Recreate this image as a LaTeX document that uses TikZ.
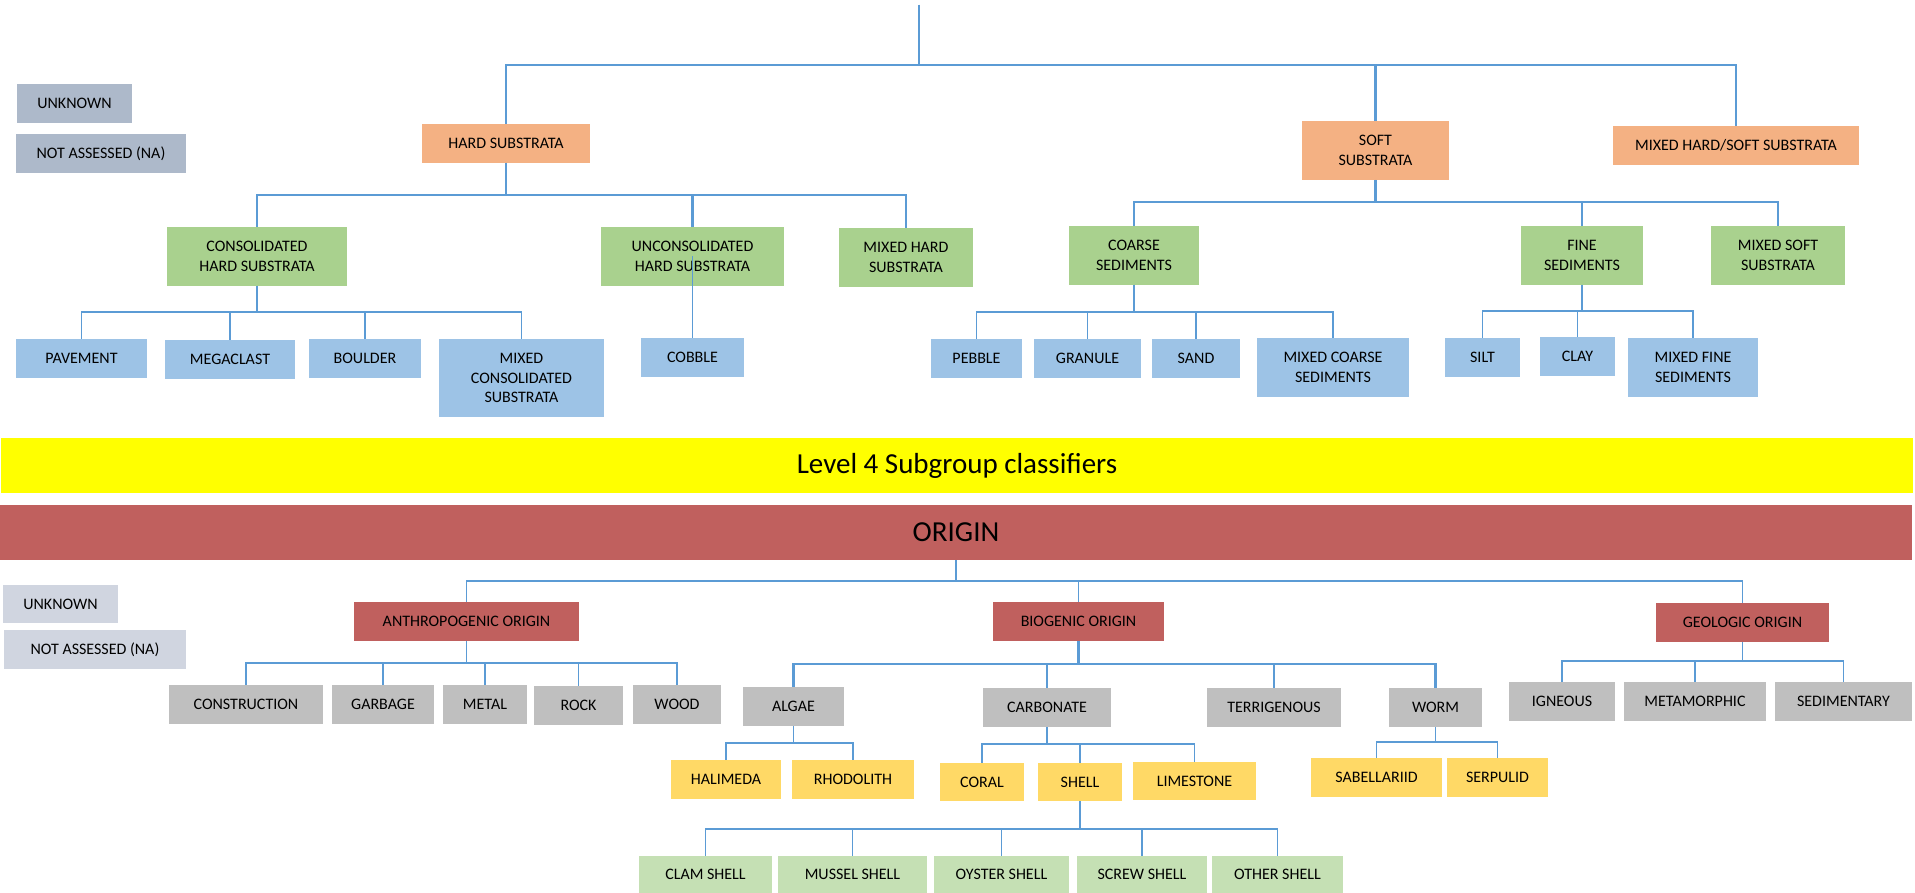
\documentclass[tikz,border=0pt]{standalone}
\usepackage{fontspec}
\setmainfont{Carlito}
\definecolor{cLeg}{HTML}{ADB9CA}
\definecolor{cLegB}{HTML}{D0D5E0}
\definecolor{cOr}{HTML}{F4B183}
\definecolor{cGr}{HTML}{A9D18E}
\definecolor{cBl}{HTML}{9DC3E6}
\definecolor{cRd}{HTML}{C0605E}
\definecolor{cGy}{HTML}{BFBFBF}
\definecolor{cYl}{HTML}{FFD966}
\definecolor{cLg}{HTML}{C5E0B4}
\definecolor{cLn}{HTML}{5B9BD5}
\definecolor{cBand}{HTML}{FFFF00}
\newcommand{\cnx}[4][]{\draw[ln,#1] (#2.south) |- (#3.north |- #4) -- (#3.north);}
\begin{document}
\begin{tikzpicture}[x=1pt,y=-1pt,
  bx/.style={inner sep=0pt, outer sep=0pt, align=center, font=\fontsize{16}{19.5}\selectfont, minimum height=39pt},
  band/.style={inner sep=0pt, outer sep=0pt, minimum width=1912pt, minimum height=55pt, font=\fontsize{29}{35}\selectfont},
  ln/.style={draw=cLn, line width=1.4pt},
  tk/.style={line width=2.8pt}]
\useasboundingbox (0,0) rectangle (1915,893);
% ---------- upper tree ----------
\node[bx,fill=cLeg,minimum width=115pt] (unkA) at (74.5,103.5) {UNKNOWN};
\node[bx,fill=cLeg,minimum width=170pt] (naA) at (101,153.5) {NOT ASSESSED (NA)};
\node[bx,fill=cOr,minimum width=168pt] (hard) at (506,143.5) {HARD SUBSTRATA};
\node[bx,fill=cOr,minimum width=147pt,minimum height=59pt] (soft) at (1375.5,150.5) {SOFT\\SUBSTRATA};
\node[bx,fill=cOr,minimum width=246pt] (mhs) at (1736,145.5) {MIXED HARD/SOFT SUBSTRATA};
\node[bx,fill=cGr,minimum width=180pt,minimum height=59pt] (cons) at (257,256.5) {CONSOLIDATED\\HARD SUBSTRATA};
\node[bx,fill=cGr,minimum width=183pt,minimum height=59pt] (uncons) at (692.5,256.5) {UNCONSOLIDATED\\HARD SUBSTRATA};
\node[bx,fill=cGr,minimum width=134pt,minimum height=59pt] (mhard) at (906,257.5) {MIXED HARD\\SUBSTRATA};
\node[bx,fill=cGr,minimum width=130pt,minimum height=59pt] (coarse) at (1134,255.5) {COARSE\\SEDIMENTS};
\node[bx,fill=cGr,minimum width=122pt,minimum height=59pt] (fine) at (1582,255.5) {FINE\\SEDIMENTS};
\node[bx,fill=cGr,minimum width=134pt,minimum height=59pt] (msoft) at (1778,255.5) {MIXED SOFT\\SUBSTRATA};
\node[bx,fill=cBl,minimum width=131pt] (pave) at (81.5,358.5) {PAVEMENT};
\node[bx,fill=cBl,minimum width=130pt] (mega) at (230,359.5) {MEGACLAST};
\node[bx,fill=cBl,minimum width=112pt] (boul) at (365,358.5) {BOULDER};
\node[bx,fill=cBl,minimum width=165pt,minimum height=78pt] (mcons) at (521.5,378) {MIXED\\CONSOLIDATED\\SUBSTRATA};
\node[bx,fill=cBl,minimum width=103pt] (cobb) at (692.5,357.5) {COBBLE};
\node[bx,fill=cBl,minimum width=91pt] (pebb) at (976.5,358.5) {PEBBLE};
\node[bx,fill=cBl,minimum width=107pt] (gran) at (1087.5,358.5) {GRANULE};
\node[bx,fill=cBl,minimum width=88pt] (sand) at (1196,358.5) {SAND};
\node[bx,fill=cBl,minimum width=152pt,minimum height=59pt] (mcoarse) at (1333,367.5) {MIXED COARSE\\SEDIMENTS};
\node[bx,fill=cBl,minimum width=75pt] (silt) at (1482.5,357.5) {SILT};
\node[bx,fill=cBl,minimum width=75pt] (clay) at (1577.5,356.5) {CLAY};
\node[bx,fill=cBl,minimum width=130pt,minimum height=59pt] (mfine) at (1693,367.5) {MIXED FINE\\SEDIMENTS};
% ---------- bands ----------
\node[band,fill=cBand] (lvl) at (957,465.5) {Level 4 Subgroup classifiers};
\node[band,fill=cRd] (orig) at (956,532.5) {ORIGIN};
% ---------- lower tree ----------
\node[bx,fill=cLegB,minimum width=115pt,minimum height=38pt] (unkB) at (60.5,604) {UNKNOWN};
\node[bx,fill=cLegB,minimum width=182pt] (naB) at (95,649.5) {NOT ASSESSED (NA)};
\node[bx,fill=cRd,minimum width=225pt] (anth) at (466.5,621.5) {ANTHROPOGENIC ORIGIN};
\node[bx,fill=cRd,minimum width=171pt] (biog) at (1078.5,621.5) {BIOGENIC ORIGIN};
\node[bx,fill=cRd,minimum width=173pt] (geol) at (1742.5,622.5) {GEOLOGIC ORIGIN};
\node[bx,fill=cGy,minimum width=154pt] (constr) at (246,704.5) {CONSTRUCTION};
\node[bx,fill=cGy,minimum width=102pt] (garb) at (383,704.5) {GARBAGE};
\node[bx,fill=cGy,minimum width=84pt] (metal) at (485,704.5) {METAL};
\node[bx,fill=cGy,minimum width=89pt] (rock) at (578.5,705.5) {ROCK};
\node[bx,fill=cGy,minimum width=88pt] (wood) at (677,704.5) {WOOD};
\node[bx,fill=cGy,minimum width=101pt] (algae) at (793.5,706.5) {ALGAE};
\node[bx,fill=cGy,minimum width=128pt] (carb) at (1047,707.5) {CARBONATE};
\node[bx,fill=cGy,minimum width=134pt] (terr) at (1274,707.5) {TERRIGENOUS};
\node[bx,fill=cGy,minimum width=93pt] (worm) at (1435.5,707.5) {WORM};
\node[bx,fill=cGy,minimum width=106pt] (ign) at (1562,701.5) {IGNEOUS};
\node[bx,fill=cGy,minimum width=142pt] (meta) at (1695,701.5) {METAMORPHIC};
\node[bx,fill=cGy,minimum width=137pt] (sedi) at (1843.5,701.5) {SEDIMENTARY};
\node[bx,fill=cYl,minimum width=110pt] (hali) at (726,779.5) {HALIMEDA};
\node[bx,fill=cYl,minimum width=122pt] (rhod) at (853,779.5) {RHODOLITH};
\node[bx,fill=cYl,minimum width=84pt,minimum height=38pt] (coral) at (982,782) {CORAL};
\node[bx,fill=cYl,minimum width=84pt,minimum height=38pt] (shell) at (1080,782) {SHELL};
\node[bx,fill=cYl,minimum width=123pt,minimum height=38pt] (lime) at (1194.5,781) {LIMESTONE};
\node[bx,fill=cYl,minimum width=131pt] (sabe) at (1376.5,777.5) {SABELLARIID};
\node[bx,fill=cYl,minimum width=101pt] (serp) at (1497.5,777.5) {SERPULID};
\node[bx,fill=cLg,minimum width=133pt,minimum height=37pt] (clam) at (705.5,874.5) {CLAM SHELL};
\node[bx,fill=cLg,minimum width=149pt,minimum height=37pt] (muss) at (852.5,874.5) {MUSSEL SHELL};
\node[bx,fill=cLg,minimum width=135pt,minimum height=37pt] (oyst) at (1001.5,874.5) {OYSTER SHELL};
\node[bx,fill=cLg,minimum width=130pt,minimum height=37pt] (screw) at (1142,874.5) {SCREW SHELL};
\node[bx,fill=cLg,minimum width=131pt,minimum height=37pt] (other) at (1277.5,874.5) {OTHER SHELL};
% ---------- junction levels ----------
\coordinate (top) at (919,5);
\coordinate (jA) at (0,65);
\coordinate (jH) at (0,195);
\coordinate (jS) at (0,202);
\coordinate (jC) at (0,312);
\coordinate (jK) at (0,312);
\coordinate (jF) at (0,311);
\coordinate (jO) at (0,581);
\coordinate (jAn) at (0,663);
\coordinate (jBi) at (0,664);
\coordinate (jGe) at (0,661);
\coordinate (jAl) at (0,743);
\coordinate (jCa) at (0,744);
\coordinate (jWo) at (0,742);
\coordinate (jSh) at (0,829);
% ---------- connectors (upper) ----------
\draw[ln,tk] (top) |- (hard.north |- jA) -- (hard.north);
\draw[ln,tk] (top) |- (soft.north |- jA) -- (soft.north);
\draw[ln] (top) |- (mhs.north |- jA) -- (mhs.north);
\cnx{hard}{cons}{jH}
\cnx[tk]{hard}{uncons}{jH}
\cnx{hard}{mhard}{jH}
\cnx{soft}{coarse}{jS}
\cnx[tk]{soft}{fine}{jS}
\cnx{soft}{msoft}{jS}
\cnx{cons}{pave}{jC}
\cnx{cons}{mega}{jC}
\cnx{cons}{boul}{jC}
\cnx{cons}{mcons}{jC}
\draw[ln] (uncons.center) -- (cobb.north);
\cnx{coarse}{pebb}{jK}
\cnx{coarse}{gran}{jK}
\cnx{coarse}{sand}{jK}
\cnx{coarse}{mcoarse}{jK}
\cnx{fine}{silt}{jF}
\cnx{fine}{clay}{jF}
\cnx{fine}{mfine}{jF}
% ---------- connectors (lower) ----------
\cnx{orig}{anth}{jO}
\cnx{orig}{biog}{jO}
\cnx{orig}{geol}{jO}
\cnx{anth}{constr}{jAn}
\cnx{anth}{garb}{jAn}
\cnx{anth}{metal}{jAn}
\cnx{anth}{rock}{jAn}
\cnx{anth}{wood}{jAn}
\cnx[tk]{biog}{algae}{jBi}
\cnx{biog}{carb}{jBi}
\cnx[tk]{biog}{terr}{jBi}
\cnx[tk]{biog}{worm}{jBi}
\cnx{geol}{ign}{jGe}
\cnx{geol}{meta}{jGe}
\cnx{geol}{sedi}{jGe}
\cnx{algae}{hali}{jAl}
\cnx{algae}{rhod}{jAl}
\cnx{carb}{coral}{jCa}
\cnx{carb}{shell}{jCa}
\cnx{carb}{lime}{jCa}
\cnx{worm}{sabe}{jWo}
\cnx{worm}{serp}{jWo}
\cnx{shell}{clam}{jSh}
\cnx{shell}{muss}{jSh}
\cnx{shell}{oyst}{jSh}
\cnx{shell}{screw}{jSh}
\cnx{shell}{other}{jSh}
\end{tikzpicture}
\end{document}
